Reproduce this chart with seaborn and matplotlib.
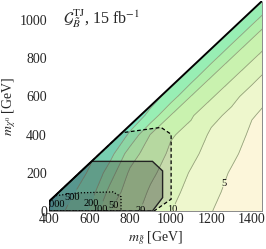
import numpy as np
import matplotlib
matplotlib.use("Agg")
import matplotlib.pyplot as plt
import seaborn as sns
from matplotlib.patches import Polygon

# ---- data ----
m_gluino = [400, 500, 600, 700, 800, 900, 1000, 1100, 1200, 1300, 1400, 1500]
m_neut = [0, 100, 200, 300, 400, 500, 600, 700, 800, 900, 1000, 1100]
# signal estimate on the (m_gluino, m_neut) grid, rows = m_neut
n_sig = [
    [1150, 400, 182, 51, 25.6, 15.4, 10.2, 7.2, 5.1, 3.8, 3.0, 2.5],
    [1500, 630, 287, 82, 33.7, 18.1, 12.1, 8.2, 5.9, 4.2, 3.2, 2.7],
    [1500, 1000, 443, 138, 44, 23.3, 14.4, 9.5, 6.8, 4.7, 3.5, 2.9],
    [1500, 1000, 650, 264, 70, 34, 17.1, 11.8, 7.8, 5.7, 3.9, 3.2],
    [1500, 1000, 650, 480, 174, 49, 21.7, 15.6, 9.0, 7.0, 4.4, 3.6],
    [1500, 1000, 650, 480, 360, 159, 49, 21.7, 11.9, 8.6, 5.2, 4.2],
    [1500, 1000, 650, 480, 360, 290, 145, 49, 21.7, 11.9, 7.7, 5.0],
    [1500, 1000, 650, 480, 360, 290, 240, 136, 49, 21.7, 11.9, 7.5],
    [1500, 1000, 650, 480, 360, 290, 240, 195, 130, 49, 21.7, 11.9],
    [1500, 1000, 650, 480, 360, 290, 240, 195, 185, 128, 49, 21.7],
    [1500, 1000, 650, 480, 360, 290, 240, 195, 185, 185, 127, 49],
    [1500, 1000, 650, 480, 360, 290, 240, 195, 185, 185, 180, 126],
]
contour_levels = [5, 10, 20, 50, 100, 200, 500, 1000]
label_pos = [(425, 36), (505, 78), (600, 42), (648, 10), (702, 36), (836, 10), (1004, 10), (1245, 150)]
mass_gap = 350  # kinematic boundary m_chi = m_gluino - gap

# exclusion regions (m_gluino, m_neut)
solid_x = [400, 400, 610, 910, 960, 960, 910]
solid_y = [0, 50, 260, 260, 210, 70, 0]
dashed_x = [400, 400, 760, 952, 1002, 1002, 918]
dashed_y = [0, 50, 410, 438, 402, 62, 0]
dotted_x = [400, 400, 430, 545, 715, 755, 755]
dotted_y = [0, 50, 80, 95, 100, 75, 0]

band_colors = ["#fcf6da", "#eef7cd", "#def5bd", "#c9f2af", "#b2efab",
               "#98eeb4", "#7ee6c2", "#6cdacc", "#5ecfd6"]

sns.set_theme(style="ticks")
plt.rcParams["font.family"] = ["Liberation Serif", "DejaVu Serif"]
plt.rcParams["mathtext.fontset"] = "stix"

fig = plt.figure(figsize=(2.66, 2.49), dpi=100)
ax = fig.add_axes([49 / 266, 38 / 249, 213 / 266, 210 / 249])

X, Y = np.meshgrid(np.array(m_gluino, float), np.array(m_neut, float))
L = np.log10(np.array(n_sig, float))
fill_lv = np.log10([0.5] + contour_levels + [1e5])
ax.contourf(X, Y, L, levels=fill_lv, colors=band_colors, zorder=1)
cs = ax.contour(X, Y, L, levels=np.log10(contour_levels), colors="#97a07c",
                linewidths=0.6, zorder=2)
fmt = {np.log10(v): str(v) for v in contour_levels}
texts = ax.clabel(cs, fmt=fmt, manual=label_pos, inline=True, fontsize=7.5,
                  inline_spacing=1, colors="black")
for t in texts:
    t.set_rotation(0)
    t.set_zorder(8)
    t.set_clip_on(True)

# white region above kinematic boundary
dx = np.array([300.0, 1600.0])
ax.fill_between(dx, dx - mass_gap, 1200, color="white", zorder=3, lw=0)

# exclusion regions
ax.add_patch(Polygon(list(zip(dashed_x, dashed_y)), closed=True, facecolor="#5a5a5a",
                     alpha=0.17, edgecolor="none", zorder=4))
ax.add_patch(Polygon(list(zip(dashed_x, dashed_y)), closed=True, facecolor="none",
                     edgecolor="black", lw=0.9, ls=(0, (3, 2)), zorder=5))
ax.add_patch(Polygon(list(zip(solid_x, solid_y)), closed=True, facecolor="#353a3a",
                     alpha=0.33, edgecolor="none", zorder=4))
ax.add_patch(Polygon(list(zip(solid_x, solid_y)), closed=True, facecolor="none",
                     edgecolor="#222222", lw=1.0, zorder=5))
ax.add_patch(Polygon(list(zip(dotted_x, dotted_y)), closed=True, facecolor="#3a3a3a",
                     alpha=0.15, edgecolor="none", zorder=4))
ax.add_patch(Polygon(list(zip(dotted_x, dotted_y)), closed=True, facecolor="none",
                     edgecolor="black", lw=0.9, ls=(0, (1, 1.5)), zorder=5))

sns.lineplot(x=dx, y=dx - mass_gap, color="black", lw=1.4, ax=ax, zorder=6)

ax.set_xlim(400, 1450)
ax.set_ylim(0, 1100)
ax.set_xticks([400, 600, 800, 1000, 1200, 1400])
ax.set_yticks([0, 200, 400, 600, 800, 1000])
ax.set_xticks(np.arange(400, 1451, 50), minor=True)
ax.set_yticks(np.arange(0, 1101, 50), minor=True)
ax.tick_params(which="both", direction="in", top=True, right=True,
               labelsize=10, pad=1.5, color="#777777")
ax.tick_params(which="major", length=3.5, width=0.6)
ax.tick_params(which="minor", length=1.8, width=0.5)
for s in ax.spines.values():
    s.set_color("#8a8a8a")
    s.set_linewidth(0.7)

ax.set_xlabel(r"$m_{\tilde{g}}$ [GeV]", fontsize=10, labelpad=2)
ax.set_ylabel(r"$m_{\chi^0}$ [GeV]", fontsize=10, labelpad=1)
ax.text(470, 1005, r"$\mathcal{G}_{\tilde{B}}^{\rm TJ}$, 15 fb$^{-1}$",
        fontsize=11.5, ha="left", va="center", zorder=9)

fig.savefig("out.png", dpi=100)
